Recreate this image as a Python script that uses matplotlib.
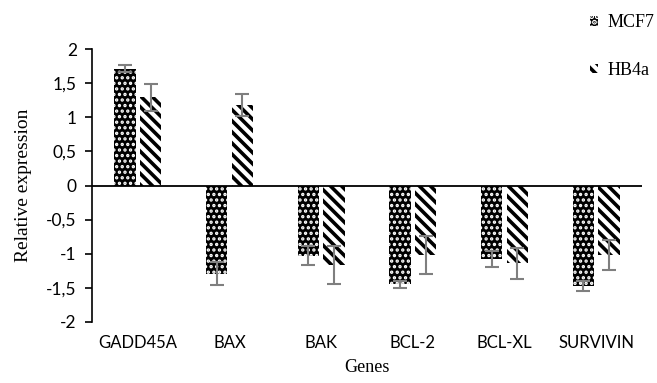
import matplotlib
matplotlib.use("Agg")
import matplotlib.pyplot as plt
import numpy as np

genes = ["GADD45A", "BAX", "BAK", "BCL-2", "BCL-XL", "SURVIVIN"]
mcf7 = [1.71, -1.29, -1.03, -1.45, -1.08, -1.47]
mcf7_err = [0.05, 0.17, 0.14, 0.05, 0.12, 0.07]
hb4a = [1.29, 1.18, -1.16, -1.02, -1.14, -1.02]
hb4a_err = [0.20, 0.16, 0.28, 0.28, 0.23, 0.22]
yticks = [-2, -1.5, -1, -0.5, 0, 0.5, 1, 1.5, 2]
ytick_labels = ["-2", "-1,5", "-1", "-0,5", "0", "0,5", "1", "1,5", "2"]

fig = plt.figure(figsize=(6.57, 3.83), dpi=100)
ax = fig.add_axes([92/657, 1-322/383, 550/657, 273/383])

x = np.arange(len(genes))
w = 0.23
plt.rcParams['hatch.linewidth'] = 1.6
b1 = ax.bar(x - 0.14, mcf7, w, color="black", edgecolor="white", hatch="...", linewidth=0, label="MCF7", zorder=2)
plt.rcParams['hatch.linewidth'] = 2.6
b2 = ax.bar(x + 0.14, hb4a, w, color="white", edgecolor="black", hatch="\\\\\\", linewidth=0, label="HB4a", zorder=2)
ax.errorbar(x - 0.14, mcf7, yerr=mcf7_err, fmt="none", ecolor="#7f7f7f", elinewidth=1.5, capsize=5, capthick=1.5, zorder=3)
ax.errorbar(x + 0.14, hb4a, yerr=hb4a_err, fmt="none", ecolor="#7f7f7f", elinewidth=1.5, capsize=5, capthick=1.5, zorder=3)

ax.axhline(0, color="black", linewidth=1.3, zorder=4)
ax.set_xlim(-0.5, 5.5)
ax.set_ylim(-2, 2)
ax.set_yticks(yticks)
ax.set_yticklabels(ytick_labels, fontsize=12.5, family="Lato")
ax.set_xticks(x)
ax.set_xticklabels(genes, fontsize=12, family="Lato")
ax.tick_params(axis="x", length=0, pad=9)
ax.tick_params(axis="y", length=5, width=1.2, direction="out", pad=6)
for s in ["top", "right", "bottom"]:
    ax.spines[s].set_visible(False)
ax.spines["left"].set_linewidth(1.2)
ax.set_ylabel("Relative expression", family="Liberation Serif", fontsize=14, labelpad=10)
ax.set_xlabel("Genes", family="Liberation Serif", fontsize=13, labelpad=6)

leg = fig.legend(handles=[b1, b2], loc="upper left", bbox_to_anchor=(574/657, 1.005),
                 frameon=False, prop={"family": "Liberation Serif", "size": 13},
                 handlelength=0.45, handleheight=0.45, handletextpad=0.5, labelspacing=1.7)

fig.savefig("out.png", dpi=100)
